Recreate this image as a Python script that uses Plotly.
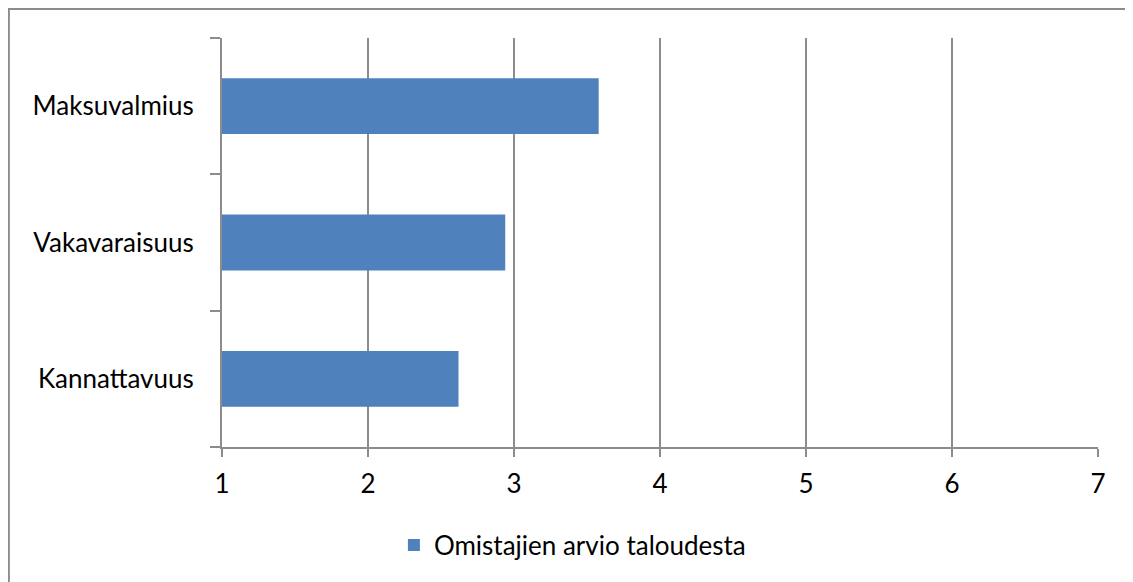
import plotly.graph_objects as go

categories = ["Kannattavuus", "Vakavaraisuus", "Maksuvalmius"]
values = [2.62, 2.94, 3.58]
series_name = "Omistajien arvio taloudesta"
x_ticks = [1, 2, 3, 4, 5, 6, 7]

fig = go.Figure()
fig.add_trace(go.Bar(
    y=categories,
    x=[v - 1 for v in values],
    base=1,
    orientation="h",
    name=series_name,
    marker=dict(color="#4F81BD", line=dict(width=0)),
    width=0.41,
))

fig.update_xaxes(
    range=[1, 7],
    tickvals=x_ticks,
    showgrid=True, gridcolor="#8C8C8C", gridwidth=1.5,
    showline=True, linecolor="#8C8C8C", linewidth=2,
    ticks="outside", ticklen=8, tickcolor="#8C8C8C", tickwidth=2,
    zeroline=False,
    tickfont=dict(size=26, color="black"),
    ticklabelstandoff=5,
)
fig.update_yaxes(
    categoryorder="array", categoryarray=categories,
    showline=True, linecolor="#8C8C8C", linewidth=2,
    ticks="outside", ticklen=10, tickcolor="#8C8C8C", tickwidth=2,
    tickson="boundaries",
    showgrid=False,
    tickfont=dict(size=26, color="black"),
    ticklabelstandoff=21,
)

# outer chart border (right and bottom edges fall outside the page)
fig.add_shape(type="rect", xref="paper", yref="paper",
              x0=-0.2433, x1=1.1, y0=-0.52, y1=1.071,
              line=dict(color="#8C8C8C", width=2), fillcolor="rgba(0,0,0,0)")

# page body has an 8px margin, so the figure is shifted by 8px
fig.update_layout(
    width=1125, height=574,
    margin=dict(l=214, r=35, t=30, b=135),
    plot_bgcolor="white", paper_bgcolor="white",
    font=dict(family="Lato", size=26, color="black"),
    showlegend=True,
    legend=dict(orientation="h", x=0.40, xanchor="center", y=-0.24, yanchor="middle",
                font=dict(size=26), itemwidth=30),
)

fig.write_html("out.html")
